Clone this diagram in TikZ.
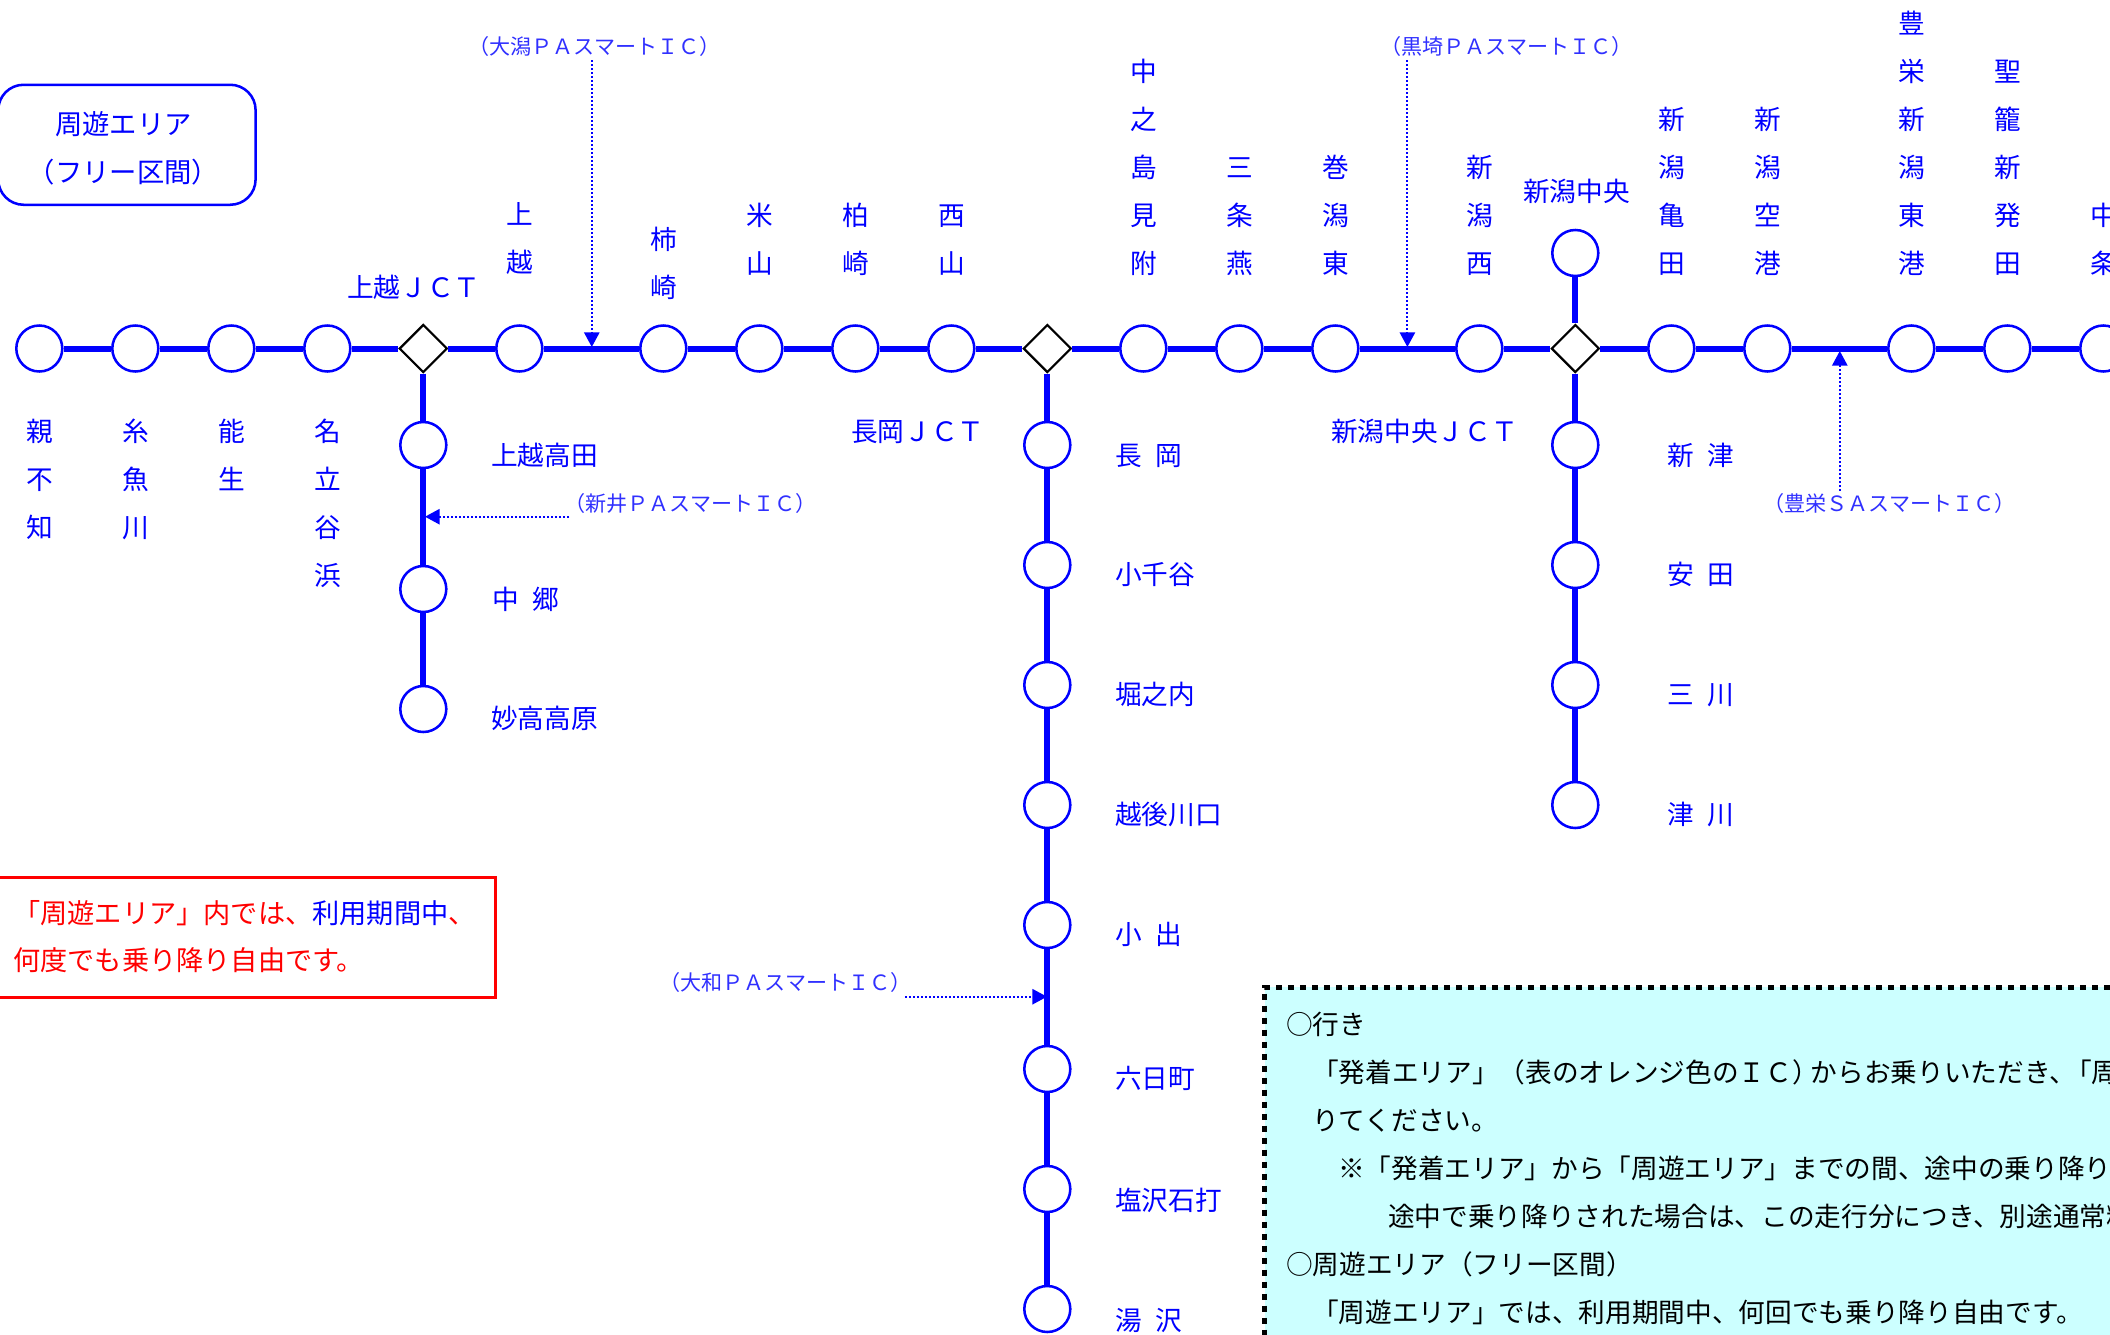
\documentclass[tikz,border=0pt]{standalone}
\usepackage{fontspec}
\usetikzlibrary{shapes.geometric,arrows.meta}
\newfontfamily\jp{Noto Sans CJK JP}
\newcommand{\hsp}{\hspace{0.5em}}
\definecolor{pablue}{HTML}{3030FF}
\definecolor{infocyan}{HTML}{CCFFFF}
\tikzset{
  station/.style={circle,draw=blue,line width=1.9pt,fill=white,minimum size=34.5pt,inner sep=0pt},
  junction/.style={diamond,aspect=1,draw=black,line width=1.6pt,fill=white,minimum width=36pt,minimum height=36pt,inner sep=0pt},
  mainline/.style={draw=blue,line width=4.5pt},
  branchline/.style={draw=blue,line width=4.4pt},
  palabel/.style={anchor=base west,inner sep=0pt,text=pablue,font=\jp\fontsize{15.8pt}{18pt}\selectfont},
  lab/.style={anchor=base west,inner sep=0pt,text=blue,font=\jp\fontsize{20pt}{36pt}\selectfont},
  vlabel/.style={anchor=base,inner sep=0pt,text=blue,font=\jp\fontsize{20pt}{36pt}\selectfont},
  boxlabel/.style={anchor=base,inner sep=0pt,text=blue,font=\jp\fontsize{20.5pt}{36pt}\selectfont},
  infotext/.style={anchor=base west,inner sep=0pt,text=black,font=\jp\fontsize{20pt}{36pt}\selectfont},
  redtext/.style={anchor=base west,inner sep=0pt,text=red,font=\jp\fontsize{20.4pt}{36pt}\selectfont},
  paarrow/.style={draw=blue,line width=1.4pt,dash pattern=on 1.5pt off 1.5pt,-{Triangle[width=11.5pt,length=11pt]}},
  freebox/.style={draw=blue,line width=1.9pt,rounded corners=19pt,anchor=north west,minimum width=193pt,minimum height=90pt,inner sep=0pt},
  redbox/.style={draw=red,line width=1.9pt,anchor=north west,minimum width=373pt,minimum height=90pt,inner sep=0pt},
  infobox/.style={draw=black,fill=infocyan,line width=3.75pt,dash pattern=on 4.5pt off 4.5pt,anchor=north west,minimum width=680pt,minimum height=300pt,inner sep=0pt}
}
\newcommand{\vlab}[4]{\node[vlabel,xshift=0.75pt] (#1) at (#2,#3) {\begin{tabular}[t]{@{}c@{}}#4\end{tabular}};}
\begin{document}
\begin{tikzpicture}[x=0.75pt,y=-0.75pt]
\useasboundingbox (0,0) rectangle (2110,1335);
\clip (0,0) rectangle (2110,1335);

% boxes
\node[freebox] (free) at (-3,83.5) {};
\node[boxlabel] (free1) at (123.5,134) {周遊エリア};
\node[boxlabel] (free2) at (123.5,182) {（フリー区間）};
\node[redbox] (rbox) at (-3,876) {};
\node[redtext] (red1) at (13,923) {「周遊エリア」内では、{\color{blue}利用期間中}、};
\node[redtext] (red2) at (13,970) {何度でも乗り降り自由です。};
\node[infobox] (info) at (1262,984.5) {};

% stations on the main line
\foreach \n/\x in {oyashirazu/39.3,itoigawa/135.3,nou/231.3,nadachi/327.3,joetsu/519.3,kakizaki/663.3,yoneyama/759.3,kashiwazaki/855.3,nishiyama/951.3,nakanoshima/1143.3,sanjo/1239.3,maki/1335.3,niigatanishi/1479.3,kameda/1671.3,kuko/1767.3,toyosakae/1911.3,seiro/2007.3,nakajo/2103.3}
  \node[station] (\n) at (\x,348.5) {};
\node[junction] (jjoetsu) at (423.3,348.5) {};
\node[junction] (jnagaoka) at (1047.3,348.5) {};
\node[junction] (jniigata) at (1575.3,348.5) {};

% branch stations
\foreach \n/\y in {takada/445,nakago/589,myoko/709}
  \node[station] (\n) at (423.3,\y) {};
\foreach \n/\y in {nagaoka/445,ojiya/565,horinouchi/685,kawaguchi/805,koide/925,muikamachi/1069,ishiuchi/1189,yuzawa/1309}
  \node[station] (\n) at (1047.3,\y) {};
\foreach \n/\y in {chuo/253,niitsu/445,yasuda/565,mikawa/685,tsugawa/805}
  \node[station] (\n) at (1575.3,\y) {};

% lines
\foreach \a/\b in {oyashirazu/itoigawa,itoigawa/nou,nou/nadachi,nadachi/jjoetsu,jjoetsu/joetsu,joetsu/kakizaki,kakizaki/yoneyama,yoneyama/kashiwazaki,kashiwazaki/nishiyama,nishiyama/jnagaoka,jnagaoka/nakanoshima,nakanoshima/sanjo,sanjo/maki,maki/niigatanishi,niigatanishi/jniigata,jniigata/kameda,kameda/kuko,kuko/toyosakae,toyosakae/seiro,seiro/nakajo}
  \draw[mainline] (\a) -- (\b);
\foreach \a/\b in {jjoetsu/takada,takada/nakago,nakago/myoko,jnagaoka/nagaoka,nagaoka/ojiya,ojiya/horinouchi,horinouchi/kawaguchi,kawaguchi/koide,koide/muikamachi,muikamachi/ishiuchi,ishiuchi/yuzawa,chuo/jniigata,jniigata/niitsu,niitsu/yasuda,yasuda/mikawa,mikawa/tsugawa}
  \draw[branchline] (\a) -- (\b);

% vertical labels above
\vlab{lJoetsu}{519.3}{224}{上\\越}
\vlab{lKakizaki}{663.3}{249}{柿\\崎}
\vlab{lYoneyama}{759.3}{225}{米\\山}
\vlab{lKashiwazaki}{855.3}{225}{柏\\崎}
\vlab{lNishiyama}{951.3}{225}{西\\山}
\vlab{lNakanoshima}{1143.3}{81}{中\\之\\島\\見\\附}
\vlab{lSanjo}{1239.3}{177}{三\\条\\燕}
\vlab{lMaki}{1335.3}{177}{巻\\潟\\東}
\vlab{lNishi}{1479.3}{177}{新\\潟\\西}
\vlab{lKameda}{1671.3}{129}{新\\潟\\亀\\田}
\vlab{lKuko}{1767.3}{129}{新\\潟\\空\\港}
\vlab{lToyosakae}{1911.3}{33}{豊\\栄\\新\\潟\\東\\港}
\vlab{lSeiro}{2007.3}{81}{聖\\籠\\新\\発\\田}
\vlab{lNakajo}{2103.3}{225}{中\\条}
% vertical labels below
\vlab{lOyashirazu}{39.3}{441}{親\\不\\知}
\vlab{lItoigawa}{135.3}{441}{糸\\魚\\川}
\vlab{lNou}{231.3}{441}{能\\生}
\vlab{lNadachi}{327.3}{441}{名\\立\\谷\\浜}

% horizontal labels
\node[lab] (lJ1) at (347,297) {上越ＪＣＴ};
\node[lab] (lJ2) at (851,441) {長岡ＪＣＴ};
\node[lab] (lJ3) at (1331,441) {新潟中央ＪＣＴ};
\node[lab] (lChuo) at (1523,201) {新潟中央};
\node[lab] (lTakada) at (491,465) {上越高田};
\node[lab] (lNakago) at (492,609) {中\hsp 郷};
\node[lab] (lMyoko) at (491,728) {妙高高原};
\node[lab] (lNagaoka) at (1115,465) {長\hsp 岡};
\node[lab] (lOjiya) at (1115,584) {小千谷};
\node[lab] (lHori) at (1115,704) {堀之内};
\node[lab] (lKawa) at (1115,824) {越後川口};
\node[lab] (lKoide) at (1115,944) {小\hsp 出};
\node[lab] (lMuika) at (1115,1088) {六日町};
\node[lab] (lIshi) at (1115,1210) {塩沢石打};
\node[lab] (lYuzawa) at (1115,1330) {湯\hsp 沢};
\node[lab] (lNiitsu) at (1667,465) {新\hsp 津};
\node[lab] (lYasuda) at (1667,584) {安\hsp 田};
\node[lab] (lMikawa) at (1667,704) {三\hsp 川};
\node[lab] (lTsugawa) at (1667,824) {津\hsp 川};

% smart IC arrows
\node[palabel] (pOgata) at (468,54) {（大潟ＰＡスマートＩＣ）};
\coordinate (aOgata) at (591.8,60);
\coordinate (bOgata) at (591.8,347);
\draw[paarrow] (aOgata) -- (bOgata);
\node[palabel] (pKurosaki) at (1380,54) {（黒埼ＰＡスマートＩＣ）};
\coordinate (aKurosaki) at (1407.4,60);
\coordinate (bKurosaki) at (1407.4,347);
\draw[paarrow] (aKurosaki) -- (bKurosaki);
\node[palabel] (pToyosakae) at (1763,511) {（豊栄ＳＡスマートＩＣ）};
\coordinate (aToyosakae) at (1839.8,491);
\coordinate (bToyosakae) at (1839.8,351);
\draw[paarrow] (aToyosakae) -- (bToyosakae);
\node[palabel] (pArai) at (564,511) {（新井ＰＡスマートＩＣ）};
\coordinate (aArai) at (569,516.7);
\coordinate (bArai) at (425,516.7);
\draw[paarrow] (aArai) -- (bArai);
\node[palabel] (pYamato) at (659,990) {（大和ＰＡスマートＩＣ）};
\coordinate (aYamato) at (905,996.7);
\coordinate (bYamato) at (1047,996.7);
\draw[paarrow] (aYamato) -- (bYamato);

% info text
\node[infotext] (i1) at (1286,1034) {○行き};
\node[infotext] (i2) at (1312,1082) {「発着エリア」（表のオレンジ色のＩＣ）\hspace{-6pt}からお乗りいただき、\hspace{-8pt}「周};
\node[infotext] (i3) at (1312,1130) {りてください。};
\node[infotext] (i4) at (1338,1178) {※「発着エリア」から「周遊エリア」までの間、途中の乗り降り};
\node[infotext] (i5) at (1388,1226) {途中で乗り降りされた場合は、この走行分につき、別途通常料};
\node[infotext] (i6) at (1286,1274) {○周遊エリア（フリー区間）};
\node[infotext] (i7) at (1312,1322) {「周遊エリア」では、利用期間中、何回でも乗り降り自由です。};
\end{tikzpicture}
\end{document}
